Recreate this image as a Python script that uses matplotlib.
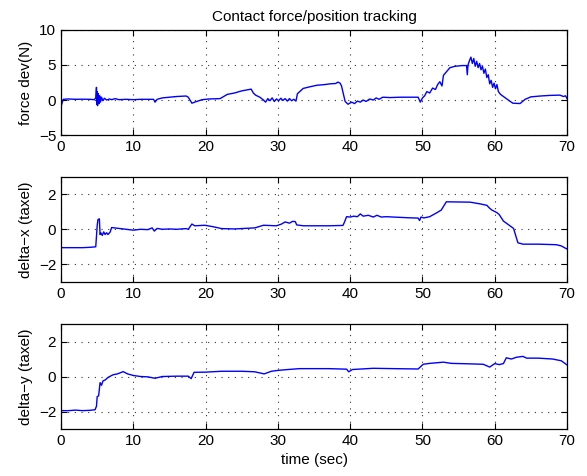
import numpy as np
import matplotlib.pyplot as plt

plt.rcParams['font.family'] = ['Liberation Sans', 'DejaVu Sans']
plt.rcParams['font.size'] = 11

# contact force deviation (N)
force_t = [0, 0.3, 1, 2, 3, 4, 4.6, 4.8, 4.9, 4.95,
           5.0, 5.05, 5.15, 5.25, 5.35, 5.45, 5.6, 5.8, 6.0, 6.3,
           6.7, 7, 7.5, 8, 9, 10, 11, 12, 12.8, 13,
           13.3, 14, 15, 16, 17.3, 17.6, 18.1, 18.5, 19.5, 20.5,
           22, 23, 24, 25, 26.3, 26.6, 26.9, 27.5, 28, 28.3,
           28.6, 28.9, 29.2, 29.5, 29.8, 30.1, 30.4, 30.7, 31, 31.3,
           31.6, 31.9, 32.2, 32.5, 32.7, 33.5, 34.5, 35.4, 36.5, 37.2,
           38, 38.3, 38.6, 38.8, 39.3, 39.7, 40.2, 40.6, 41.0, 41.4,
           41.8, 42.2, 42.7, 43.2, 43.6, 44, 44.5, 45.5, 47, 48.5,
           49.4, 49.7, 50.0, 50.3, 50.6, 51.0, 51.4, 51.8, 52.1, 52.4,
           52.7, 52.9, 53.3, 53.8, 54.5, 55.5, 56.1, 56.2, 56.3, 56.5,
           56.7, 56.9, 57.1, 57.3, 57.5, 57.7, 57.9, 58.1, 58.3, 58.5,
           58.7, 58.9, 59.1, 59.3, 59.5, 59.7, 59.9, 60.1, 60.3, 60.5,
           60.8, 61.2, 61.6, 62, 62.5, 63.5, 64.2, 65, 66.3, 67.5,
           69, 69.5, 69.8, 70]
force_v = [-0.9, 0.1, 0.15, 0.1, 0.12, 0.1, 0.05, 0.3, 1.8, -0.6,
           1.2, -0.8, 0.9, -0.5, 0.6, -0.3, 0.4, -0.1, 0.25, 0.0,
           0.15, 0.05, 0.2, 0.05, 0.1, 0.05, 0.1, 0.1, 0.1, -0.3,
           0.1, 0.3, 0.4, 0.5, 0.57, 0.4, -0.45, -0.3, 0.05, 0.15,
           0.2, 0.8, 1.0, 1.3, 1.55, 1.0, 0.7, 0.4, 0.0, -0.3,
           0.2, -0.1, 0.3, -0.2, 0.15, -0.1, 0.25, -0.05, 0.2, -0.15,
           0.2, -0.1, 0.1, -0.15, 0.9, 1.65, 1.9, 2.1, 2.2, 2.3,
           2.35, 2.55, 2.4, 2.0, -0.2, -0.6, -0.3, -0.5, -0.15, -0.3,
           0.0, -0.2, 0.15, 0.0, 0.3, 0.1, 0.4, 0.35, 0.4, 0.4,
           0.4, -0.3, 0.3, 0.6, 1.2, 1.0, 1.7, 1.5, 2.2, 2.6,
           2.0, 3.5, 4.0, 4.6, 4.8, 4.9, 4.9, 3.6, 5.0, 5.6,
           6.1, 5.2, 5.9, 4.8, 5.5, 4.6, 5.2, 4.3, 4.8, 3.8,
           4.4, 3.2, 3.6, 2.3, 2.8, 1.8, 2.4, 1.6, 2.2, 1.2,
           0.8, 0.5, 0.2, -0.1, -0.45, -0.5, 0.1, 0.45, 0.57, 0.65,
           0.7, 0.5, 0.6, 0.2]

# contact position deviation along x (taxel)
dx_t = [0, 0.02, 0.1, 1, 2, 3, 4, 4.8, 5.0, 5.1,
        5.3, 5.4, 5.5, 5.7, 5.9, 6.1, 6.3, 6.5, 6.8, 7.0,
        8, 9, 10, 11, 12, 12.6, 12.9, 13.3, 14, 15,
        16, 17.3, 17.6, 18.1, 18.5, 19.9, 21, 22.2, 24, 26.8,
        28, 29.8, 30.5, 31, 31.6, 32, 32.4, 32.6, 33.5, 35,
        37, 39, 39.2, 39.5, 40, 40.5, 41, 41.4, 41.8, 42.5,
        43.2, 43.7, 44.3, 45, 46.4, 48, 49.4, 49.6, 49.8, 50.2,
        51, 52, 52.6, 53.3, 55, 56.6, 58, 58.9, 59.3, 59.6,
        60.3, 60.6, 61.2, 62.1, 62.6, 63.2, 63.9, 66, 68.5, 69.2,
        70]
dx_v = [-3, -1.0, -1.05, -1.05, -1.05, -1.05, -1.03, -1.0, 0.2, 0.55,
        0.6, -0.3, -0.2, -0.35, -0.15, -0.3, -0.2, -0.3, -0.15, 0.1,
        0.05, 0.0, -0.05, 0.0, -0.02, 0.08, -0.1, 0.05, 0.0, 0.02,
        0.0, 0.04, 0.0, 0.3, 0.2, 0.23, 0.15, 0.04, 0.02, 0.08,
        0.23, 0.2, 0.3, 0.42, 0.35, 0.45, 0.44, 0.25, 0.2, 0.2,
        0.2, 0.22, 0.4, 0.72, 0.7, 0.75, 0.72, 0.88, 0.75, 0.8,
        0.7, 0.8, 0.7, 0.72, 0.69, 0.66, 0.64, 0.5, 0.7, 0.65,
        0.72, 0.95, 1.1, 1.57, 1.56, 1.55, 1.45, 1.37, 1.2, 1.1,
        0.95, 0.85, 0.47, 0.2, 0.05, -0.77, -0.85, -0.85, -0.88, -0.95,
        -1.13]

# contact position deviation along y (taxel)
dy_t = [0, 0.02, 1, 2, 3, 4, 4.7, 4.9, 5.0, 5.2,
        5.4, 5.6, 5.8, 6.1, 6.5, 7.2, 7.8, 8.6, 9.2, 10,
        11, 12, 13, 14, 16, 17.6, 18, 18.4, 20, 22.2,
        25, 26.8, 28.1, 29.1, 30, 31.4, 33, 35, 37, 39.5,
        39.8, 40.3, 43.2, 46, 49.4, 50.1, 51, 52.9, 54, 56,
        58.4, 59.3, 60, 60.6, 61.2, 61.6, 62.3, 63, 63.9, 64.4,
        66, 68, 69.2, 70]
dy_v = [-3, -1.95, -1.95, -1.92, -1.95, -1.93, -1.9, -1.7, -1.15, -1.1,
        -0.35, -0.5, -0.25, -0.2, -0.05, 0.1, 0.15, 0.28, 0.15, 0.06,
        0.0, -0.02, -0.1, 0.0, 0.02, 0.02, -0.12, 0.24, 0.25, 0.3,
        0.3, 0.27, 0.15, 0.3, 0.35, 0.4, 0.45, 0.45, 0.45, 0.42,
        0.27, 0.4, 0.47, 0.45, 0.43, 0.7, 0.75, 0.82, 0.75, 0.73,
        0.7, 0.54, 0.74, 0.68, 0.74, 1.07, 1.0, 1.1, 1.15, 1.05,
        1.05, 1.0, 0.9, 0.66]

fig = plt.figure(figsize=(5.87, 4.76), dpi=100)
ax1 = fig.add_axes([0.104, 0.716, 0.862, 0.2216])
ax2 = fig.add_axes([0.104, 0.408, 0.862, 0.2206])
ax3 = fig.add_axes([0.104, 0.0987, 0.862, 0.2206])

panels = [
    (ax1, force_t, force_v, 'force dev(N)', (-5, 10), [-5, 0, 5, 10]),
    (ax2, dx_t, dx_v, 'delta\u2212x (taxel)', (-3, 3), [-2, 0, 2]),
    (ax3, dy_t, dy_v, 'delta\u2212y (taxel)', (-3, 3), [-2, 0, 2]),
]

for ax, t, v, lab, ylim, yt in panels:
    ax.plot(t, v, color='#0000ff', lw=1.0)
    ax.set_xlim(0, 70)
    ax.set_ylim(*ylim)
    ax.set_xticks(np.arange(0, 71, 10))
    ax.set_yticks(yt)
    ax.set_ylabel(lab)
    ax.grid(True, linestyle=(0, (1, 5)), color='#333333', linewidth=0.8)
    ax.tick_params(direction='in', top=True, right=True, length=4, labelsize=11)
    for s in ax.spines.values():
        s.set_linewidth(0.9)

ax1.set_title('Contact force/position tracking', fontsize=11)
ax3.set_xlabel('time (sec)')

fig.savefig('out.png', dpi=100)
